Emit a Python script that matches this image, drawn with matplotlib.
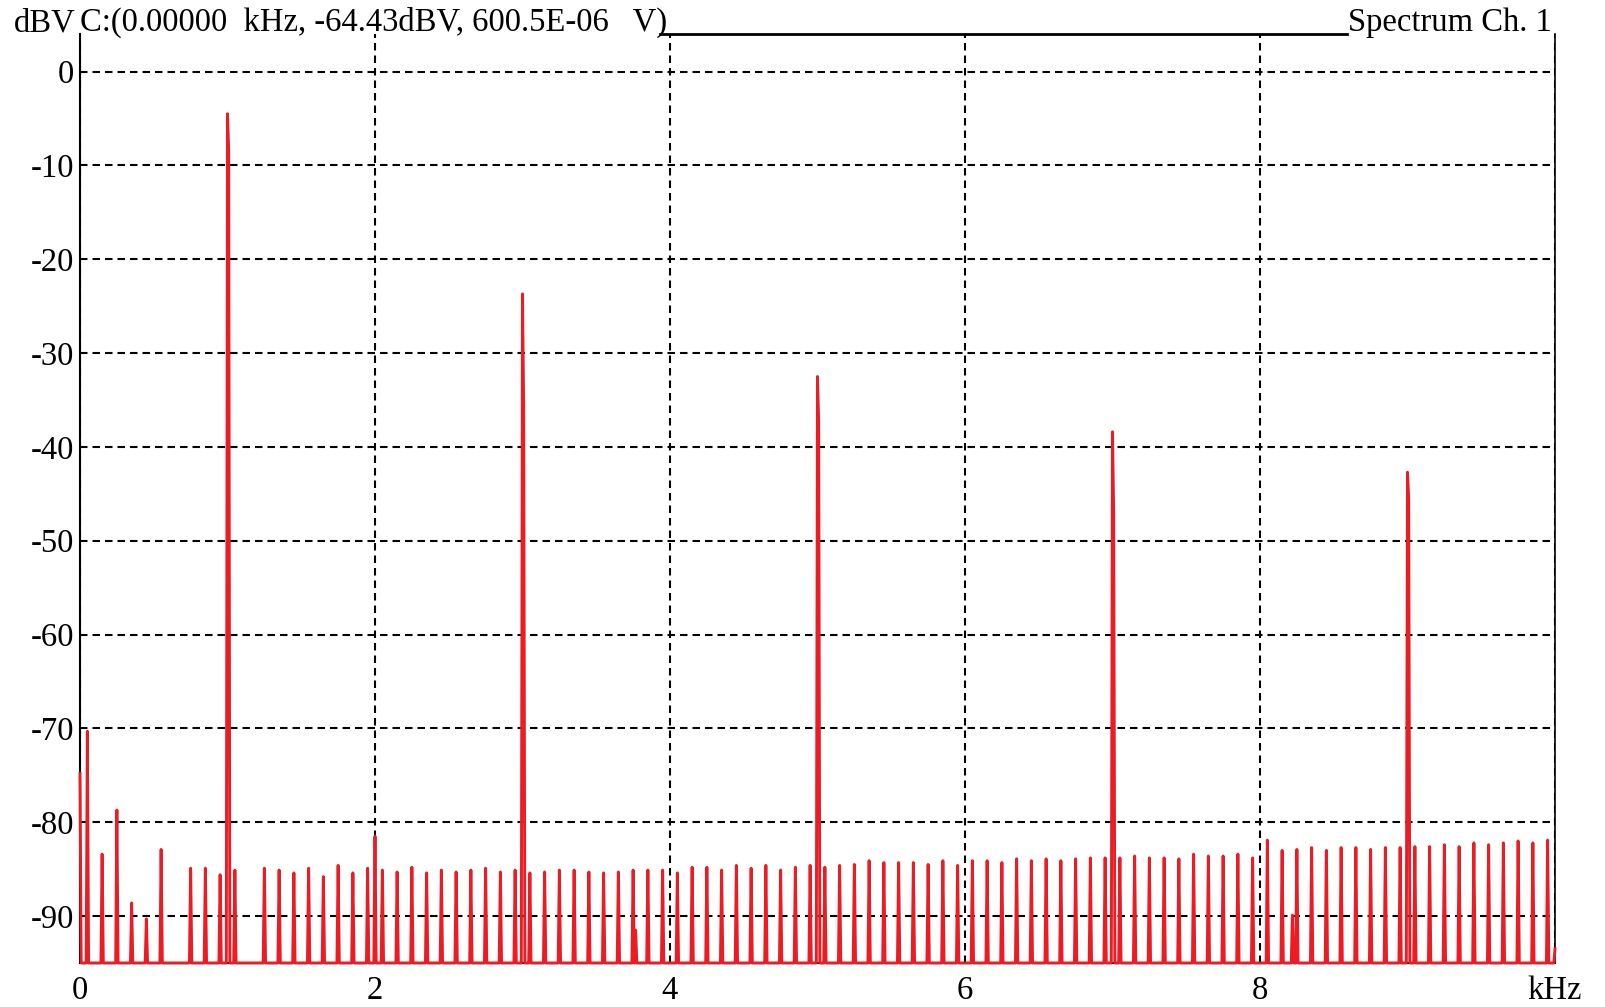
import numpy as np
import matplotlib.pyplot as plt

plt.rcParams['font.family'] = ['Liberation Serif', 'DejaVu Serif']

# noise floor of the analyser display (everything below is pinned here)
floor_db = -95.0

# DC bin and the last bin at 10 kHz
dc_level = -74.8
end_freq, end_level = 10.0, -93.5

# odd harmonics of the 1 kHz test tone (kHz, dBV) and the bin beside each peak
harm_freqs = [1.0, 3.0, 5.0, 7.0, 9.0]
harm_levels = [-4.5, -23.7, -32.5, -38.4, -42.7]
harm_shoulder = [-8.5, -36.0, -37.5, -47.0, -45.5]

# small spurs (kHz, dBV)
spur_freqs = [
    0.05, 0.15, 0.25, 0.35, 0.45, 0.55, 0.75, 0.85, 0.95, 1.05,
    1.25, 1.35, 1.45, 1.55, 1.65, 1.75, 1.85, 1.95, 2.00, 2.05,
    2.15, 2.25, 2.35, 2.45, 2.55, 2.65, 2.75, 2.85, 2.95, 3.05,
    3.15, 3.25, 3.35, 3.45, 3.55, 3.65, 3.75, 3.767, 3.85, 3.95,
    4.05, 4.15, 4.25, 4.35, 4.45, 4.55, 4.65, 4.75, 4.85, 4.95,
    5.05, 5.15, 5.25, 5.35, 5.45, 5.55, 5.65, 5.75, 5.85, 5.95,
    6.05, 6.15, 6.25, 6.35, 6.45, 6.55, 6.65, 6.75, 6.85, 6.95,
    7.05, 7.15, 7.25, 7.35, 7.45, 7.55, 7.65, 7.75, 7.85, 7.95,
    8.05, 8.15, 8.22, 8.25, 8.35, 8.45, 8.55, 8.65, 8.75, 8.85,
    8.95, 9.05, 9.15, 9.25, 9.35, 9.45, 9.55, 9.65, 9.75, 9.85,
    9.95,
]
spur_levels = [
    -70.3, -83.4, -78.7, -88.6, -90.3, -82.9, -84.9, -84.9, -85.6, -85.1,
    -84.9, -85.1, -85.4, -84.9, -85.8, -84.6, -85.4, -84.9, -81.5, -85.1,
    -85.3, -84.8, -85.4, -85.1, -85.3, -85.1, -84.9, -85.3, -85.1, -85.4,
    -85.3, -85.1, -85.1, -85.3, -85.4, -85.3, -85.1, -91.5, -85.1, -85.1,
    -85.4, -84.8, -84.8, -85.1, -84.6, -84.9, -84.6, -85.1, -84.8, -84.6,
    -84.8, -84.6, -84.5, -84.1, -84.3, -84.3, -84.3, -84.5, -84.1, -84.6,
    -84.1, -84.1, -84.3, -83.9, -84.1, -83.9, -84.1, -83.9, -83.8, -83.8,
    -83.8, -83.6, -83.8, -83.8, -83.9, -83.4, -83.6, -83.6, -83.4, -83.8,
    -81.9, -83.0, -89.9, -82.9, -82.7, -83.0, -82.7, -82.7, -82.9, -82.7,
    -82.7, -82.6, -82.6, -82.4, -82.6, -82.2, -82.4, -82.2, -82.0, -82.2,
    -81.9,
]

xticks = [0, 2, 4, 6, 8, 10]
xtick_labels = ['0', '2', '4', '6', '8', 'kHz']
yticks = [-90, -80, -70, -60, -50, -40, -30, -20, -10, 0]
ytick_labels = ['-90', '-80', '-70', '-60', '-50', '-40', '-30', '-20', '-10', '0']

# build the trace: each line is one bin wide, dropping to the floor either side
bw = 0.008
pts = [(0.0, dc_level), (bw, floor_db)]
for f, L in zip(spur_freqs, spur_levels):
    pts += [(f - bw, floor_db), (f, L), (f + bw, floor_db)]
for f, L, s in zip(harm_freqs, harm_levels, harm_shoulder):
    pts += [(f - bw, floor_db), (f, L), (f + bw, s), (f + 2 * bw, floor_db)]
pts += [(end_freq - bw, floor_db), (end_freq, end_level)]
pts.sort(key=lambda p: p[0])
freq = np.array([p[0] for p in pts])
level = np.array([p[1] for p in pts])

fs = 23.5

fig = plt.figure(figsize=(16.06, 10.07), dpi=100, facecolor='w')
ax = fig.add_axes([80 / 1606, 1 - 963 / 1007, 1475 / 1606, 929 / 1007])

ax.plot(freq, level, color='#ec1c24', lw=2.1, clip_on=False, zorder=3)

ax.set_xlim(0, 10)
ax.set_ylim(-95, 4)
ax.set_xticks(xticks)
ax.set_xticklabels(xtick_labels, fontsize=fs)
ax.set_yticks(yticks)
ax.set_yticklabels(ytick_labels, fontsize=fs)
ax.tick_params(length=0)
ax.tick_params(axis='x', pad=9)
ax.tick_params(axis='y', pad=4)
ax.grid(True, color='k', lw=1.5, ls=(0, (3.6, 2.4)))

for side in ('left', 'bottom', 'right', 'top'):
    ax.spines[side].set_linewidth(1.5)
ax.spines['right'].set_linewidth(1.2)
ax.spines['top'].set_linewidth(2.0)
ax.spines['top'].set_bounds(3.93, 8.59)

ybase = 1 - 31 / 1007
fig.text(14 / 1606, ybase, 'dBV', fontsize=fs, va='baseline')
fig.text(80 / 1606, ybase, 'C:(0.00000  kHz, -64.43dBV, 600.5E-06   V)',
         fontsize=fs, va='baseline')
fig.text(1348 / 1606, ybase, 'Spectrum Ch. 1', fontsize=fs, va='baseline')

fig.savefig('out.png', dpi=100)
